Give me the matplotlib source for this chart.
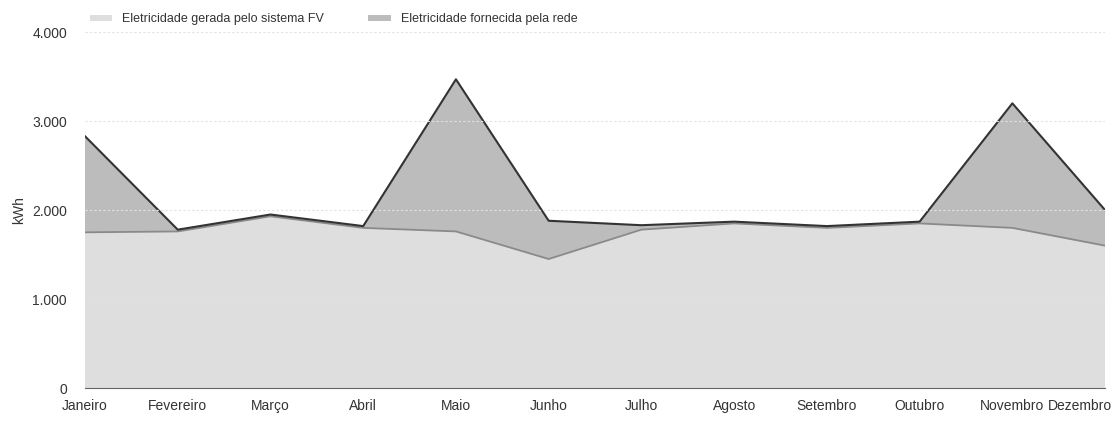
import matplotlib
matplotlib.use("Agg")
import matplotlib.pyplot as plt
import matplotlib.transforms as mtransforms
import numpy as np

meses = ["Janeiro", "Fevereiro", "Março", "Abril", "Maio", "Junho", "Julho",
         "Agosto", "Setembro", "Outubro", "Novembro", "Dezembro"]
gerada_fv = [1750, 1760, 1930, 1800, 1760, 1450, 1780, 1850, 1800, 1850, 1800, 1600]
total = [2830, 1780, 1950, 1820, 3470, 1880, 1830, 1870, 1820, 1870, 3200, 2000]
fornecida_rede = [t - g for t, g in zip(total, gerada_fv)]

y_ticks = [0, 1000, 2000, 3000, 4000]
y_labels = ["0", "1.000", "2.000", "3.000", "4.000"]

plt.rcParams['font.family'] = ['Liberation Sans', 'DejaVu Sans']

fig = plt.figure(figsize=(11.14, 4.23), dpi=100)
ax = fig.add_axes([0.0763, 0.0827, 0.9157, 0.8413])

x = np.arange(len(meses))
ax.stackplot(x, gerada_fv, fornecida_rede, colors=["#dedede", "#bcbcbc"],
             labels=["Eletricidade gerada pelo sistema FV", "Eletricidade fornecida pela rede"])
ax.plot(x, gerada_fv, color="#8a8a8a", lw=1.3)
ax.plot(x, total, color="#333333", lw=1.5)

ax.set_xlim(0, len(meses) - 1)
ax.set_ylim(0, 4000)
ax.set_yticks(y_ticks)
ax.set_yticklabels(y_labels)
ax.set_xticks(x)
ax.set_xticklabels(meses)
ax.tick_params(length=0, colors="#333333")
ax.tick_params(axis="y", pad=13, labelsize=10)
ax.tick_params(axis="x", pad=8, labelsize=10)
# last label sits inside the figure edge, like in the original
last = ax.get_xticklabels()[-1]
last.set_horizontalalignment("right")
last.set_transform(last.get_transform() + mtransforms.ScaledTranslation(0.07, 0, fig.dpi_scale_trans))

ax.yaxis.grid(True, color="#e2e2e2", lw=0.8, ls=(0, (2, 2)))
ax.set_axisbelow(False)
for s in ["top", "right", "left"]:
    ax.spines[s].set_visible(False)
ax.spines["bottom"].set_color("#666666")
ax.set_ylabel("kWh", fontsize=10, color="#333333", labelpad=4)

leg = ax.legend(loc="lower left", bbox_to_anchor=(0.0, 1.005), ncol=2, frameon=False,
                fontsize=9, handlelength=1.8, handleheight=0.4, columnspacing=3.5,
                borderaxespad=0)
for t in leg.get_texts():
    t.set_color("#333333")

fig.savefig("out.png", dpi=100)
